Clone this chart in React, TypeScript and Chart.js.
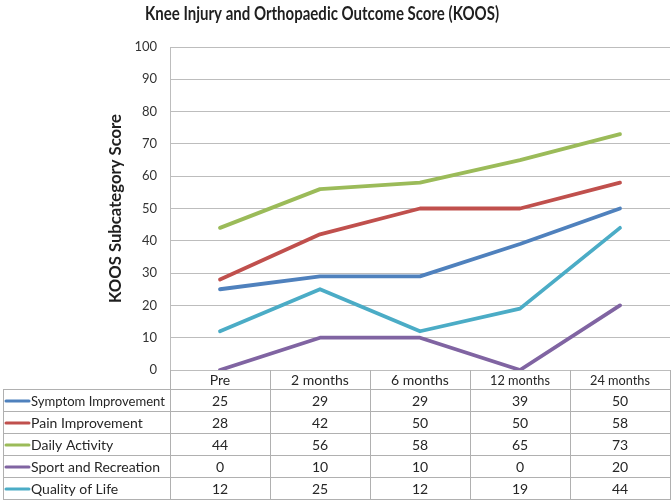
import React, { useEffect, useRef } from "react";
import { Chart, registerables } from "chart.js";

Chart.register(...registerables);

const chartTitle = "Knee Injury and Orthopaedic Outcome Score (KOOS)";
const yAxisTitle = "KOOS Subcategory Score";
const categories = ["Pre", "2 months", "6 months", "12 months", "24 months"];
const seriesNames = [
  "Symptom Improvement",
  "Pain Improvement",
  "Daily Activity",
  "Sport and Recreation",
  "Quality of Life",
];
const symptomImprovement = [25, 29, 29, 39, 50];
const painImprovement = [28, 42, 50, 50, 58];
const dailyActivity = [44, 56, 58, 65, 73];
const sportRecreation = [0, 10, 10, 0, 20];
const qualityOfLife = [12, 25, 12, 19, 44];
const seriesColors = ["#4F81BD", "#C0504D", "#9BBB59", "#8064A2", "#4BACC6"];
const yMin = 0;
const yMax = 100;
const yStep = 10;

const FONT = "Lato, 'Liberation Sans', sans-serif";
const GRID = "#bdbdbd";
const TABLE_LINE = "#b0b0b0";

const tablePlugin = {
  id: "koosTable",
  afterDraw(chart: any) {
    const ctx = chart.ctx as CanvasRenderingContext2D;
    const area = chart.chartArea;
    const xs = chart.scales.x;
    const ds = chart.data.datasets;
    ctx.save();
    // title
    ctx.fillStyle = "#1f1f1f";
    ctx.font = `bold 19px ${FONT}`;
    ctx.textAlign = "center";
    ctx.textBaseline = "middle";
    ctx.fillText(chartTitle, 322, 14, 354);

    // y axis title
    ctx.save();
    ctx.translate(116, (area.top + area.bottom) / 2);
    ctx.rotate(-Math.PI / 2);
    ctx.font = `bold 17px ${FONT}`;
    ctx.fillText(yAxisTitle, 0, 0, 189);
    ctx.restore();

    const top = area.bottom;
    const headerH = 19;
    const rowH = 22;
    const tableLeft = 3;
    const n = categories.length;
    const half = (xs.getPixelForValue(1) - xs.getPixelForValue(0)) / 2;
    const colEdges: number[] = [area.left];
    for (let i = 0; i < n; i++) colEdges.push(xs.getPixelForValue(i) + half);
    const bottom = top + headerH + rowH * ds.length;

    ctx.strokeStyle = TABLE_LINE;
    ctx.lineWidth = 1;
    ctx.beginPath();
    colEdges.forEach((x) => {
      const xx = Math.round(x) + 0.5;
      ctx.moveTo(xx, top);
      ctx.lineTo(xx, bottom);
    });
    ctx.moveTo(tableLeft + 0.5, top + headerH);
    ctx.lineTo(tableLeft + 0.5, bottom);
    for (let r = 0; r <= ds.length; r++) {
      const y = Math.round(top + headerH + r * rowH) + 0.5;
      ctx.moveTo(tableLeft, y);
      ctx.lineTo(colEdges[colEdges.length - 1] + 1, y);
    }
    ctx.stroke();

    ctx.fillStyle = "#262626";
    ctx.font = `14px ${FONT}`;
    ctx.textAlign = "center";
    ctx.textBaseline = "middle";
    categories.forEach((c, i) => {
      ctx.fillText(c, xs.getPixelForValue(i), top + headerH / 2 + 1, 60);
    });
    ds.forEach((d: any, r: number) => {
      const cy = top + headerH + r * rowH + rowH / 2 + 1;
      ctx.strokeStyle = d.borderColor;
      ctx.lineWidth = 3;
      ctx.lineCap = "round";
      ctx.beginPath();
      ctx.moveTo(6, cy);
      ctx.lineTo(29, cy);
      ctx.stroke();
      ctx.fillStyle = "#262626";
      ctx.textAlign = "left";
      ctx.fillText(d.label, 31, cy, 134);
      ctx.textAlign = "center";
      d.data.forEach((v: number, i: number) => {
        ctx.fillText(String(v), xs.getPixelForValue(i), cy);
      });
    });
    ctx.restore();
  },
};

export default function App() {
  const ref = useRef<HTMLCanvasElement | null>(null);
  useEffect(() => {
    if (!ref.current) return;
    const values = [symptomImprovement, painImprovement, dailyActivity, sportRecreation, qualityOfLife];
    const chart = new Chart(ref.current, {
      type: "line",
      data: {
        labels: categories,
        datasets: seriesNames.map((name, i) => ({
          label: name,
          data: values[i],
          borderColor: seriesColors[i],
          backgroundColor: seriesColors[i],
          borderWidth: 3.8,
          pointRadius: 0,
          pointHoverRadius: 0,
          borderCapStyle: "round",
          borderJoinStyle: "round",
          tension: 0,
        })),
      },
      options: {
        responsive: false,
        animation: false,
        layout: { padding: { top: 47, right: 1, bottom: 132, left: 0 } },
        plugins: {
          legend: { display: false },
          title: { display: false },
          tooltip: { enabled: false },
        },
        scales: {
          x: {
            type: "category",
            display: false,
            offset: true,
          },
          y: {
            min: yMin,
            max: yMax,
            ticks: {
              stepSize: yStep,
              padding: 13,
              color: "#333333",
              font: { family: FONT, size: 13 },
            },
            grid: { color: GRID, drawTicks: false, lineWidth: 1 },
            border: { color: GRID },
            title: { display: false },
            afterFit(scale: any) {
              scale.width = 170;
            },
          },
        },
      },
      plugins: [tablePlugin],
    } as any);
    return () => chart.destroy();
  }, []);
  return (
    <div style={{ position: "absolute", left: 0, top: 0, width: 671, height: 502, background: "#ffffff" }}>
      <canvas ref={ref} width={671} height={502} style={{ display: "block", width: 671, height: 502 }} />
    </div>
  );
}
